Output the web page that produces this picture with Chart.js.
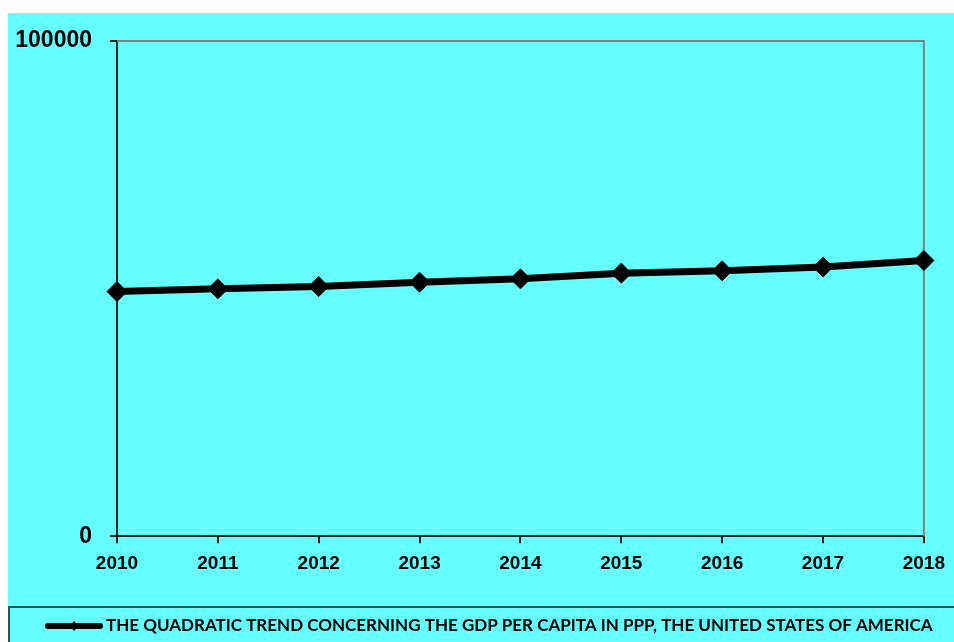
<!DOCTYPE html>
<html>
<head>
<meta charset="utf-8">
<title>Quadratic trend - GDP per capita in PPP, USA</title>
<script src="https://cdn.jsdelivr.net/npm/chart.js@4/dist/chart.umd.min.js"></script>
<style>
  body { margin: 0; background: #ffffff; }
  #wrap { position: absolute; left: 8px; top: 13px; width: 946px; height: 629px; background: #66ffff; overflow: hidden; }
</style>
</head>
<body>
<div id="wrap"><canvas id="trend" width="946" height="629"></canvas></div>
<script>
var years = ['2010', '2011', '2012', '2013', '2014', '2015', '2016', '2017', '2018'];
var trendValues = [49400, 49950, 50420, 51300, 51970, 53120, 53590, 54340, 55670];
var yTicks = [0, 100000];
var seriesLabel = 'THE QUADRATIC TREND CONCERNING THE GDP PER CAPITA IN PPP, THE UNITED STATES OF AMERICA';

// top and right edges of the plot frame
var frame = {
    id: 'frame',
    beforeDatasetsDraw: function(chart){
        var a = chart.chartArea, ctx = chart.ctx;
        ctx.save();
        ctx.strokeStyle = '#808080';
        ctx.lineWidth = 2;
        ctx.beginPath();
        ctx.moveTo(a.left, a.top);
        ctx.lineTo(a.right, a.top);
        ctx.lineTo(a.right, a.bottom);
        ctx.stroke();
        ctx.restore();
    }
};

// boxed legend along the bottom
var legendBox = {
    id: 'legendBox',
    afterDraw: function(chart){
        var ctx = chart.ctx;
        var top = 594, mid = 613;
        ctx.save();
        ctx.strokeStyle = '#2b5656';
        ctx.lineWidth = 2;
        ctx.strokeRect(1, top, chart.width + 10, 60);

        ctx.strokeStyle = '#000';
        ctx.lineWidth = 6;
        ctx.lineCap = 'round';
        ctx.beginPath();
        ctx.moveTo(40, mid);
        ctx.lineTo(92, mid);
        ctx.stroke();
        ctx.fillStyle = '#000';
        ctx.beginPath();
        ctx.moveTo(66, mid - 5);
        ctx.lineTo(70, mid);
        ctx.lineTo(66, mid + 5);
        ctx.lineTo(62, mid);
        ctx.closePath();
        ctx.fill();

        ctx.font = 'bold 17px Lato';
        ctx.textBaseline = 'middle';
        ctx.fillText(chart.data.datasets[0].label, 98, mid);
        ctx.restore();
    }
};

var ctx = document.getElementById('trend').getContext('2d');
var chart = new Chart(ctx, {
    type: 'line',
    data: {
        labels: years,
        datasets: [{
            label: seriesLabel,
            data: trendValues,
            borderColor: '#000',
            backgroundColor: '#000',
            borderWidth: 7,
            tension: 0,
            pointStyle: 'rectRot',
            pointRadius: 10,
            pointBorderWidth: 1,
            pointBackgroundColor: '#000',
            pointBorderColor: '#000'
        }]
    },
    options: {
        responsive: false,
        animation: false,
        layout: { padding: { left: 0, right: 30, top: 28, bottom: 58 } },
        plugins: {
            legend: { display: false },
            tooltip: { enabled: false }
        },
        scales: {
            x: {
                offset: false,
                grid: { display: true, drawOnChartArea: false, color: '#222', tickLength: 7, lineWidth: 2 },
                border: { color: '#222', width: 2 },
                ticks: { color: '#000', padding: 9, maxRotation: 0, font: { family: 'Liberation Sans', weight: 'bold', size: 19 } }
            },
            y: {
                min: 0,
                max: 100000,
                afterFit: function(scale){
                    scale.width = 109;
                    scale.paddingTop = 0;
                    scale.paddingBottom = 0;
                },
                afterBuildTicks: function(scale){ scale.ticks = yTicks.map(function(v){ return { value: v }; }); },
                grid: { display: true, drawOnChartArea: false, color: '#222', tickLength: 7, lineWidth: 2 },
                border: { color: '#222', width: 2 },
                ticks: {
                    color: '#000',
                    padding: 18,
                    callback: function(v){ return String(v); },
                    font: { family: 'Liberation Sans', weight: 'bold', size: 23 }
                }
            }
        }
    },
    plugins: [frame, legendBox]
});
</script>
</body>
</html>
